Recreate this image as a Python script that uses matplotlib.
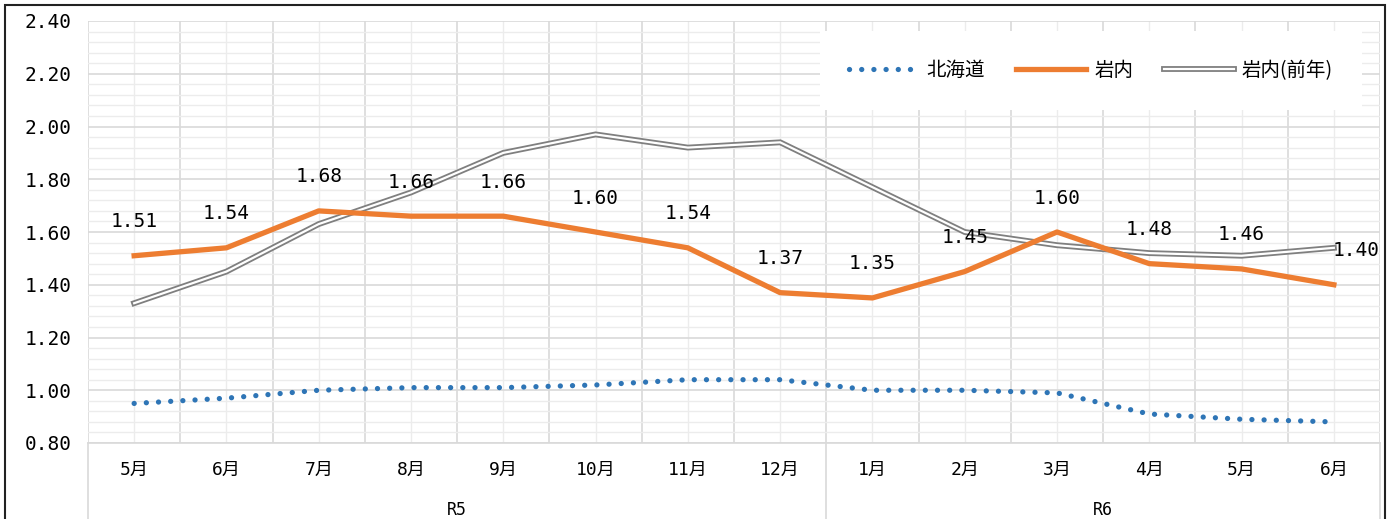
import matplotlib
matplotlib.use("Agg")
import matplotlib.pyplot as plt
from matplotlib.patches import Rectangle
from matplotlib.ticker import MultipleLocator, FixedLocator

plt.rcParams['font.family'] = ['DejaVu Sans Mono', 'Noto Sans CJK JP']

months = ['5月', '6月', '7月', '8月', '9月', '10月', '11月', '12月',
          '1月', '2月', '3月', '4月', '5月', '6月']
groups = ['R5', 'R6']
group_sizes = [8, 6]

hokkaido = [0.95, 0.97, 1.00, 1.01, 1.01, 1.02, 1.04, 1.04, 1.00, 1.00, 0.99, 0.91, 0.89, 0.88]
iwanai = [1.51, 1.54, 1.68, 1.66, 1.66, 1.60, 1.54, 1.37, 1.35, 1.45, 1.60, 1.48, 1.46, 1.40]
iwanai_prev = [1.33, 1.45, 1.63, 1.75, 1.90, 1.97, 1.92, 1.94, 1.77, 1.60, 1.55, 1.52, 1.51, 1.54]

W, H = 1390, 519
fig = plt.figure(figsize=(W / 100, H / 100), dpi=100)
ax = fig.add_axes([88 / W, 1 - 443 / H, (1380 - 88) / W, (443 - 21) / H])

x = list(range(len(months)))
ax.set_xlim(-0.5, len(months) - 0.5)
ax.set_ylim(0.8, 2.4)

# grid
ax.yaxis.set_major_locator(MultipleLocator(0.2))
ax.yaxis.set_minor_locator(MultipleLocator(0.04))
ax.xaxis.set_major_locator(FixedLocator(x))
ax.xaxis.set_minor_locator(FixedLocator([i - 0.5 for i in range(len(months) + 1)]))
ax.grid(which='major', axis='y', color='#d9d9d9', lw=1.2)
ax.grid(which='minor', axis='y', color='#ececec', lw=1.0)
ax.grid(which='minor', axis='x', color='#d9d9d9', lw=1.2)
ax.grid(which='major', axis='x', color='#ececec', lw=1.0)
ax.set_axisbelow(True)
for s in ['top', 'right', 'left']:
    ax.spines[s].set_visible(False)
ax.spines['bottom'].set_color('#d9d9d9')
ax.spines['bottom'].set_linewidth(1.2)

ax.set_yticks([0.8 + 0.2 * i for i in range(9)])
ax.set_yticklabels([f'{0.8 + 0.2 * i:.2f}' for i in range(9)], fontsize=14)
ax.tick_params(axis='y', which='both', length=0, pad=12)
ax.set_xticks(x)
ax.set_xticklabels(months, fontsize=13)
ax.tick_params(axis='x', which='both', length=0, pad=13)

# lines
l1, = ax.plot(x, hokkaido, color='#2e75b6', lw=3.8, linestyle=(0, (0.01, 2.3)),
              dash_capstyle='round')
l3a, = ax.plot(x, iwanai_prev, color='#7f7f7f', lw=4.2, solid_joinstyle='miter')
l3b, = ax.plot(x, iwanai_prev, color='white', lw=1.6, solid_joinstyle='miter')
l2, = ax.plot(x, iwanai, color='#ed7d31', lw=3.8, solid_joinstyle='round', zorder=4)

# data labels
for i, v in enumerate(iwanai):
    dx = 22 if i == len(iwanai) - 1 else 0
    ax.annotate(f'{v:.2f}', (i, v), xytext=(dx, 34), textcoords='offset pixels',
                ha='center', va='center', fontsize=14, zorder=5)

# legend
leg = ax.legend([l1, l2, (l3a, l3b)], ['北海道', '岩内', '岩内(前年)'],
                loc='upper right', bbox_to_anchor=(0.9938, 1.0), ncol=3,
                frameon=True, fancybox=False, edgecolor='white', framealpha=1,
                handlelength=3.6, columnspacing=1.6,
                borderpad=1.5, handletextpad=0.4,
                prop={'family': ['Noto Sans CJK JP'], 'size': 14})
leg.get_frame().set_linewidth(0)

# group labels and separators below axis
start = 0
for g, n in zip(groups, group_sizes):
    mid = start + n / 2 - 0.5
    ax.annotate(g, (mid, 0.8), xytext=(0, -58), textcoords='offset pixels',
                ha='center', va='top', fontsize=12, annotation_clip=False)
    start += n
sep = 0
for n in [0] + group_sizes:
    sep += n
    ax.plot([sep - 0.5, sep - 0.5], [0.8, 0.8 - 80 / 422 * 1.6],
            color='#d9d9d9', lw=1.2, clip_on=False)

# outer frame
fig.patches.append(Rectangle((5 / W, -0.05), (1385 - 5) / W, 1.05 - 5 / H,
                             transform=fig.transFigure, fill=False,
                             edgecolor='#222222', lw=1.5))

fig.savefig('out.png', dpi=100)
